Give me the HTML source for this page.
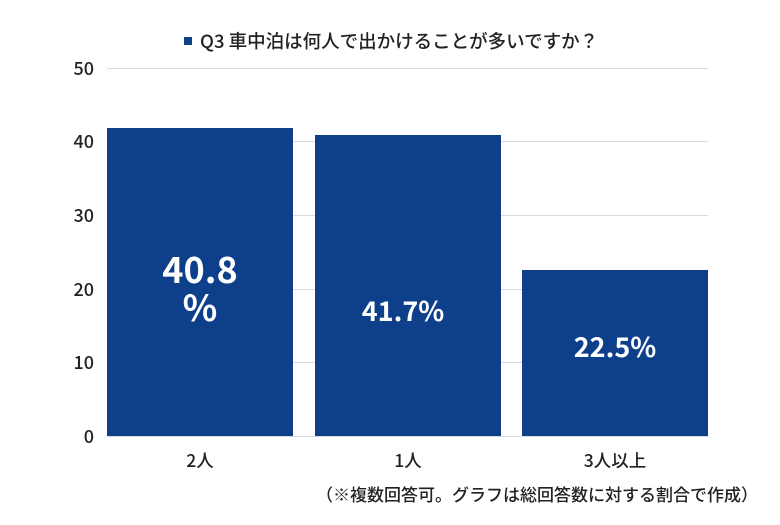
<!DOCTYPE html>
<html><head><meta charset="utf-8"><style>
body{margin:0;background:#fff;width:780px;height:520px;overflow:hidden;}
</style></head><body>
<svg width="780" height="520" xmlns="http://www.w3.org/2000/svg" font-family="Noto Sans CJK JP, Liberation Sans, sans-serif">
<rect width="780" height="520" fill="#fff"/>
<g stroke="#d9d9d9" stroke-width="1">
<line x1="107" x2="708" y1="68.5" y2="68.5"/>
<line x1="107" x2="708" y1="141.5" y2="141.5"/>
<line x1="107" x2="708" y1="215.5" y2="215.5"/>
<line x1="107" x2="708" y1="289.5" y2="289.5"/>
<line x1="107" x2="708" y1="362.5" y2="362.5"/>
<line x1="107" x2="708" y1="436.5" y2="436.5"/>
</g>
<g font-size="18" fill="#222" text-anchor="end" font-weight="500">
<text x="94" y="75">50</text>
<text x="94" y="148">40</text>
<text x="94" y="222">30</text>
<text x="94" y="296">20</text>
<text x="94" y="369">10</text>
<text x="94" y="443">0</text>
</g>
<rect x="184" y="37" width="8" height="8" fill="#0d3f8a"/>
<text x="200" y="48" font-size="18.5" fill="#222" font-weight="500">Q3 車中泊は何人で出かけることが多いですか？</text>
<g fill="#0d3f8a">
<rect x="107" y="128" width="186" height="308"/>
<rect x="315" y="135" width="186" height="301"/>
<rect x="522" y="270" width="186" height="166"/>
</g>
<g fill="#fff" font-weight="bold" text-anchor="middle">
<text x="200" y="283" font-size="36">40.8</text>
<text x="200" y="321" font-size="36">%</text>
<text x="403" y="321" font-size="27">41.7%</text>
<text x="615" y="357" font-size="27">22.5%</text>
</g>
<g font-size="17.5" fill="#222" text-anchor="middle" font-weight="500">
<text x="200" y="467">2人</text>
<text x="408" y="467">1人</text>
<text x="615" y="467">3人以上</text>
</g>
<text x="758" y="501" font-size="17" fill="#222" text-anchor="end" font-weight="500">（※複数回答可。グラフは総回答数に対する割合で作成）</text>
</svg>
</body></html>
